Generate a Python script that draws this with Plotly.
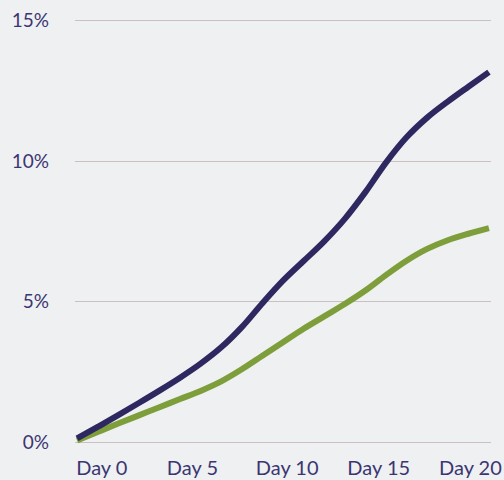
import plotly.graph_objects as go

days = list(range(21))
series_a = [0.14, 0.55, 0.97, 1.40, 1.84, 2.30, 2.80, 3.38, 4.10, 4.95, 5.75,
            6.45, 7.15, 7.95, 8.90, 9.95, 10.85, 11.55, 12.12, 12.65, 13.17]
series_b = [0.07, 0.37, 0.67, 0.96, 1.25, 1.54, 1.83, 2.17, 2.60, 3.08, 3.56,
            4.04, 4.48, 4.92, 5.40, 5.95, 6.46, 6.88, 7.19, 7.42, 7.62]

x_tick_labels = ["Day 0", "Day 5", "Day 10", "Day 15", "Day 20"]
x_tick_pos = [1.2, 5.6, 10.2, 14.65, 19.1]
y_tick_vals = [0, 5, 10, 15]
y_tick_labels = ["0%", "5%", "10%", "15%"]

NAVY = "#2e2860"
GREEN = "#7d9e3a"
TEXT = "#3b3672"
BG = "#eff0f1"

fig = go.Figure()
fig.add_trace(go.Scatter(x=days, y=series_b, mode="lines",
                         line=dict(color=GREEN, width=6, shape="spline", smoothing=1.0),
                         hoverinfo="skip", showlegend=False))
fig.add_trace(go.Scatter(x=days, y=series_a, mode="lines",
                         line=dict(color=NAVY, width=6, shape="spline", smoothing=1.0),
                         hoverinfo="skip", showlegend=False))

fig.update_layout(
    width=504, height=480,
    margin=dict(l=75, r=13, t=15, b=32),
    paper_bgcolor=BG, plot_bgcolor=BG,
    font=dict(family="Lato, Open Sans, sans-serif", size=18, color=TEXT),
    xaxis=dict(range=[-0.1, 20.1], tickmode="array", tickvals=x_tick_pos,
               ticktext=x_tick_labels, showgrid=False, zeroline=False,
               showline=False, ticks="", fixedrange=True, automargin=False,
               tickfont=dict(size=20), ticklabelstandoff=6),
    yaxis=dict(range=[-0.2, 15.2], tickmode="array", tickvals=y_tick_vals,
               ticktext=y_tick_labels, showgrid=True, gridcolor="#cbbfbf",
               gridwidth=1.2, zeroline=False, showline=False, ticks="",
               automargin=False,
               tickfont=dict(size=19), ticklabelstandoff=25, fixedrange=True),
)

fig.write_html("out.html")
